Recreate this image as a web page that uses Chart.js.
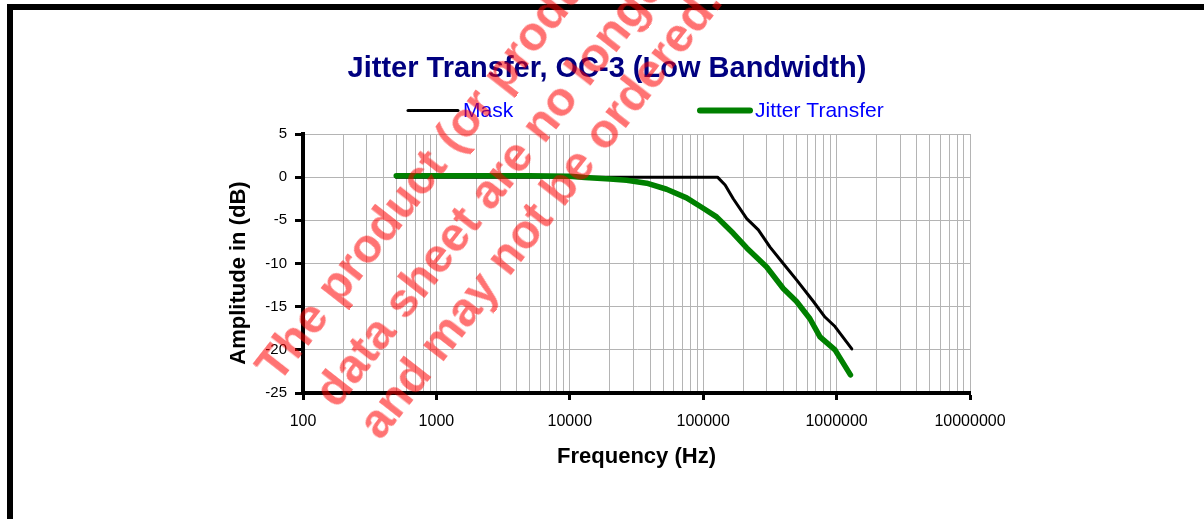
<!DOCTYPE html>
<html>
<head>
<meta charset="utf-8">
<script src="https://cdn.jsdelivr.net/npm/chart.js@4.4.0/dist/chart.umd.min.js"></script>
<style>
html, body { margin: 0; padding: 0; background: #fff; overflow: hidden; }
#wrap { position: relative; width: 1204px; height: 519px; overflow: hidden; }
#frame { position: absolute; left: 7px; top: 4px; right: -20px; bottom: -20px; border-top: 6px solid #000; border-left: 6px solid #000; }
#chart { position: absolute; left: 0; top: 0; }
#mark { position: absolute; left: 276px; top: 389px; transform: rotate(-52deg); transform-origin: 0 0;
  font: bold 48px "Liberation Sans", Arial, sans-serif; color: rgba(255, 0, 0, 0.55); white-space: nowrap; line-height: 48px; pointer-events: none; }
#mark div { position: absolute; }
</style>
</head>
<body>
<div id="wrap">
  <div id="frame"></div>
  <canvas id="chart" width="1204" height="519"></canvas>
  <div id="mark">
    <div style="left:5px; top:-41px">The product (or products) described in this</div>
    <div style="left:21px; top:21px">data sheet are no longer in production</div>
    <div style="left:23px; top:75px">and may not be ordered.</div>
  </div>
</div>
<script>
var chartTitle = 'Jitter Transfer, OC-3 (Low Bandwidth)'
var yTitle = 'Amplitude in (dB)'
var xTitle = 'Frequency (Hz)'
var seriesNames = ['Mask', 'Jitter Transfer']

// mask: 0 dB out to the corner, then rolls off
var maskFreq = [500, 1000, 10000, 100000, 128000, 146000, 168000, 212000, 259000, 317000, 398000, 501000, 670000, 818000, 973000, 1300000]
var maskDb = [0, 0, 0, 0, 0, -0.9, -2.5, -4.8, -6.1, -8.1, -10, -11.9, -14.4, -16.2, -17.3, -19.9]

// measured jitter transfer
var jitterFreq = [500, 1000, 5000, 10000, 13000, 20000, 26700, 37700, 53200, 75100, 100000, 126000, 168000, 212000, 299000, 398000, 501000, 631000, 751000, 973000, 1270000]
var jitterDb = [0.15, 0.15, 0.15, 0.1, -0.05, -0.2, -0.35, -0.7, -1.4, -2.4, -3.6, -4.6, -6.5, -8.2, -10.4, -12.9, -14.4, -16.4, -18.5, -20.0, -22.9]

var xDecades = [100, 1000, 10000, 100000, 1000000, 10000000]
var yTicks = [5, 0, -5, -10, -15, -20, -25]

var legendX = [408, 700]

function pts(xs, ys) {
    return xs.map(function (x, i) { return { x: x, y: ys[i] } })
}

var FONT = '"Liberation Sans", Arial, sans-serif'

var headerPlugin = {
    id: 'header',
    afterDraw: function (chart) {
        var c = chart.ctx
        c.save()
        c.fillStyle = '#000080'
        c.font = 'bold 29px ' + FONT
        c.textAlign = 'center'
        c.textBaseline = 'alphabetic'
        c.fillText(chartTitle, 607, 77)
        chart.data.datasets.forEach(function (ds, i) {
            var x = legendX[i]
            c.strokeStyle = ds.borderColor
            c.lineWidth = i == 0 ? 3 : 6
            c.lineCap = 'round'
            c.beginPath()
            c.moveTo(x, 110.5)
            c.lineTo(x + 50, 110.5)
            c.stroke()
            c.fillStyle = '#0000ff'
            c.font = '21px ' + FONT
            c.textAlign = 'left'
            c.fillText(ds.label, x + 55, 117)
        })
        // y axis title, a bit below the plot centre like the original
        c.translate(239, 273)
        c.rotate(-Math.PI / 2)
        c.fillStyle = '#000'
        c.font = 'bold 22px ' + FONT
        c.textAlign = 'center'
        c.textBaseline = 'middle'
        c.fillText(yTitle, 0, 0)
        c.restore()
    }
}

var ctx = document.getElementById('chart').getContext('2d')
var chart = new Chart(ctx, {
    type: 'line',
    data: {
        datasets: [{
            label: seriesNames[0],
            data: pts(maskFreq, maskDb),
            borderColor: '#000000',
            borderWidth: 3,
            order: 2
        }, {
            label: seriesNames[1],
            data: pts(jitterFreq, jitterDb),
            borderColor: '#008000',
            borderWidth: 5.5,
            order: 1
        }]
    },
    options: {
        responsive: false,
        animation: false,
        devicePixelRatio: 1,
        layout: { padding: { left: 224, top: 134, right: 234, bottom: 49 } },
        elements: {
            point: { radius: 0 },
            line: { tension: 0, borderJoinStyle: 'round', borderCapStyle: 'round', fill: false }
        },
        plugins: {
            legend: { display: false },
            title: { display: false },
            tooltip: { enabled: false }
        },
        scales: {
            x: {
                type: 'logarithmic',
                min: 100,
                max: 10000000,
                afterBuildTicks: function (s) {
                    var t = []
                    xDecades.forEach(function (d, i) {
                        t.push({ value: d })
                        if (i < xDecades.length - 1) {
                            for (var m = 2; m <= 9; m++) t.push({ value: d * m })
                        }
                    })
                    s.ticks = t
                },
                afterFit: function (s) { s.height = 77 },
                ticks: {
                    autoSkip: false,
                    maxRotation: 0,
                    padding: 12,
                    color: '#000',
                    font: { family: FONT, size: 16 },
                    callback: function (v) { return xDecades.indexOf(v) >= 0 ? String(v) : '' }
                },
                grid: {
                    color: '#b4b4b4',
                    lineWidth: 1,
                    tickLength: 7,
                    tickWidth: 3,
                    tickColor: function (c) {
                        return c.tick && xDecades.indexOf(c.tick.value) >= 0 ? '#000' : 'rgba(0,0,0,0)'
                    }
                },
                border: { color: '#000', width: 4 },
                title: {
                    display: true,
                    text: xTitle,
                    color: '#000',
                    padding: 0,
                    font: { family: FONT, size: 22, weight: 'bold' }
                }
            },
            y: {
                min: -25,
                max: 5,
                afterBuildTicks: function (s) {
                    s.ticks = yTicks.map(function (v) { return { value: v } })
                },
                afterFit: function (s) { s.width = 79 },
                ticks: {
                    padding: 8,
                    color: '#000',
                    font: { family: FONT, size: 15 }
                },
                grid: {
                    color: '#b4b4b4',
                    lineWidth: 1,
                    tickLength: 8,
                    tickWidth: 3,
                    tickColor: '#000'
                },
                border: { color: '#000', width: 4 },
                title: { display: false }
            }
        }
    },
    plugins: [headerPlugin]
})
</script>
</body>
</html>
